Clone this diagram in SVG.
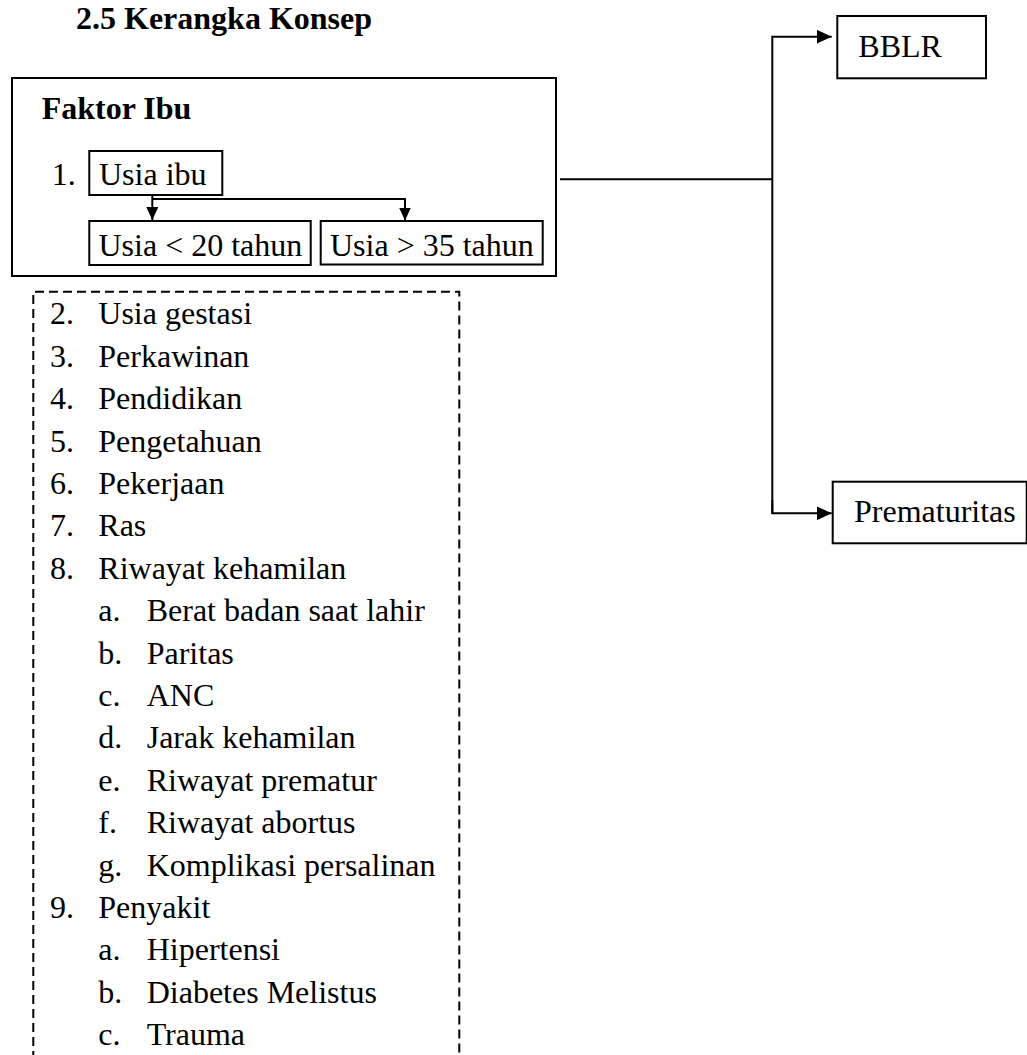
<svg xmlns="http://www.w3.org/2000/svg" width="1027" height="1055" viewBox="0 0 1027 1055">
<style>
  text { font-family: "Liberation Serif", "Times New Roman", serif; font-size: 32px; fill: #000; }
  .b { font-weight: bold; }
  .box { fill: none; stroke: #000; stroke-width: 2; }
  .dash { fill: none; stroke: #000; stroke-width: 2; stroke-dasharray: 9 5; }
  .ln { fill: none; stroke: #000; stroke-width: 2; }
</style>
<defs>
  <marker id="ahS" markerUnits="userSpaceOnUse" markerWidth="13" markerHeight="12" refX="13" refY="6" orient="auto">
    <path d="M0,0 L13,6 L0,12 Z" fill="#000"/>
  </marker>
  <marker id="ahL" markerUnits="userSpaceOnUse" markerWidth="15" markerHeight="14" refX="15" refY="7" orient="auto">
    <path d="M0,0 L15,7 L0,14 Z" fill="#000"/>
  </marker>
</defs>
<rect width="1027" height="1055" fill="#fff"/>

<g id="title">
  <text class="b" x="76" y="28.8">2.5 Kerangka Konsep</text>
</g>

<g id="faktor-ibu">
  <rect class="box" x="12" y="78" width="544" height="198"/>
  <text class="b" x="41.7" y="119">Faktor Ibu</text>
  <text x="51.7" y="185">1.</text>
</g>

<g id="usia-ibu">
  <rect class="box" x="89.3" y="151" width="133" height="44"/>
  <text x="99" y="185">Usia ibu</text>
</g>

<g id="usia-20">
  <rect class="box" x="89.3" y="221" width="221.4" height="44"/>
  <text x="98.5" y="256">Usia &lt; 20 tahun</text>
</g>

<g id="usia-35">
  <rect class="box" x="320.7" y="221" width="222" height="43.5"/>
  <text x="330" y="256">Usia &gt; 35 tahun</text>
</g>

<g id="bblr">
  <rect class="box" x="837.3" y="16" width="148.7" height="62.3"/>
  <text x="858.3" y="57.3">BBLR</text>
</g>

<g id="prematuritas">
  <rect class="box" x="832.7" y="481.7" width="194" height="61.6"/>
  <text x="854" y="521.7">Prematuritas</text>
</g>

<g id="faktor-lain">
  <path class="dash" d="M33.3,1060 V291.7 H459.3 V1060"/>
  <text x="50" y="324.3">2.</text><text x="98.3" y="324.3">Usia gestasi</text>
  <text x="50" y="366.7">3.</text><text x="98.3" y="366.7">Perkawinan</text>
  <text x="50" y="409.1">4.</text><text x="98.3" y="409.1">Pendidikan</text>
  <text x="50" y="451.5">5.</text><text x="98.3" y="451.5">Pengetahuan</text>
  <text x="50" y="493.9">6.</text><text x="98.3" y="493.9">Pekerjaan</text>
  <text x="50" y="536.3">7.</text><text x="98.3" y="536.3">Ras</text>
  <text x="50" y="578.7">8.</text><text x="98.3" y="578.7">Riwayat kehamilan</text>
  <text x="98.3" y="621.1">a.</text><text x="146.7" y="621.1">Berat badan saat lahir</text>
  <text x="98.3" y="663.5">b.</text><text x="146.7" y="663.5">Paritas</text>
  <text x="98.3" y="705.9">c.</text><text x="146.7" y="705.9">ANC</text>
  <text x="98.3" y="748.3">d.</text><text x="146.7" y="748.3">Jarak kehamilan</text>
  <text x="98.3" y="790.7">e.</text><text x="146.7" y="790.7">Riwayat prematur</text>
  <text x="98.3" y="833.1">f.</text><text x="146.7" y="833.1">Riwayat abortus</text>
  <text x="98.3" y="875.5">g.</text><text x="146.7" y="875.5">Komplikasi persalinan</text>
  <text x="50" y="917.9">9.</text><text x="98.3" y="917.9">Penyakit</text>
  <text x="98.3" y="960.3">a.</text><text x="146.7" y="960.3">Hipertensi</text>
  <text x="98.3" y="1002.7">b.</text><text x="146.7" y="1002.7">Diabetes Melistus</text>
  <text x="98.3" y="1045.1">c.</text><text x="146.7" y="1045.1">Trauma</text>
</g>

<g id="connectors">
  <path class="ln" d="M152.3,195 V220" marker-end="url(#ahS)"/>
  <path class="ln" d="M152.3,199 H405 V220.5" marker-end="url(#ahS)"/>
  <path class="ln" d="M560,179.3 H772.3"/>
  <path class="ln" d="M772.3,513.3 V36.7 H831.7" marker-end="url(#ahL)"/>
  <path class="ln" d="M772.3,500 V513.3 H831.7" marker-end="url(#ahL)"/>
</g>
</svg>
